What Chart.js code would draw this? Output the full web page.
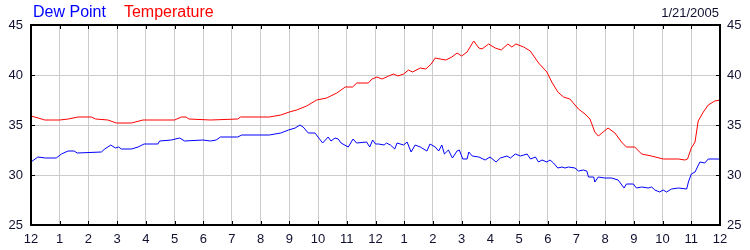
<!DOCTYPE html>
<html>
<head>
<meta charset="utf-8">
<script src="https://cdn.jsdelivr.net/npm/chart.js@4.4.1/dist/chart.umd.min.js"></script>
<style>
  body { margin: 0; background: #fff; }
  canvas { display: block; }
</style>
</head>
<body>
<canvas id="grafica" width="750" height="250"></canvas>
<script>
// Etiquetas del eje x (horas 0..24)
const hourLabels = ['12','1','2','3','4','5','6','7','8','9','10','11','12','1','2','3','4','5','6','7','8','9','10','11','12'];
const yTicks = [25, 30, 35, 40, 45];
const dateText = '1/21/2005';

// Temperatura
const tempHours = [0, 0.25, 0.48, 1.0, 1.3, 1.64, 2.1, 2.25, 2.68, 2.97, 3.5, 3.9, 5.0, 5.24, 5.4, 5.5, 6.25, 7.2, 7.3, 8.3, 8.7, 9.0, 9.25, 9.6, 9.95, 10.3, 10.65, 10.95, 11.2, 11.35, 11.75, 11.88, 12.05, 12.23, 12.46, 12.63, 12.78, 12.98, 13.15, 13.29, 13.56, 13.75, 13.94, 14.08, 14.25, 14.45, 14.66, 14.84, 15.0, 15.19, 15.42, 15.6, 15.71, 15.94, 16.17, 16.38, 16.61, 16.75, 16.89, 17.16, 17.39, 17.68, 17.97, 18.14, 18.35, 18.55, 18.77, 18.95, 19.07, 19.3, 19.47, 19.64, 19.76, 19.93, 20.1, 20.34, 20.57, 20.74, 21.03, 21.27, 21.61, 22.02, 22.55, 22.78, 22.87, 23.0, 23.13, 23.24, 23.42, 23.59, 23.82, 24.0];
const tempValues = [35.9, 35.7, 35.5, 35.5, 35.6, 35.8, 35.8, 35.6, 35.5, 35.2, 35.2, 35.5, 35.5, 35.8, 35.8, 35.6, 35.5, 35.6, 35.8, 35.8, 36.0, 36.3, 36.5, 36.9, 37.5, 37.7, 38.2, 38.8, 38.8, 39.2, 39.2, 39.6, 39.8, 39.6, 39.9, 40.1, 39.9, 40.1, 40.5, 40.3, 40.7, 40.6, 41.1, 41.7, 41.6, 41.5, 41.8, 42.2, 41.9, 42.3, 43.4, 42.7, 42.6, 43.1, 42.7, 42.5, 43.1, 42.8, 43.1, 42.8, 42.4, 41.2, 40.3, 39.3, 38.3, 37.8, 37.6, 37.0, 36.6, 36.1, 35.6, 34.3, 33.9, 34.3, 34.7, 34.2, 33.3, 32.8, 32.8, 32.1, 31.9, 31.6, 31.6, 31.5, 31.6, 32.7, 33.3, 35.4, 36.3, 37.0, 37.4, 37.5];

// Punto de rocio
const dewHours = [0, 0.24, 0.5, 0.88, 1.06, 1.29, 1.5, 1.61, 2.45, 2.57, 2.78, 2.94, 3.05, 3.15, 3.5, 3.73, 3.94, 4.42, 4.48, 4.89, 5.18, 5.35, 5.99, 6.25, 6.45, 6.6, 7.2, 7.34, 8.3, 8.7, 8.97, 9.2, 9.37, 9.48, 9.66, 9.89, 10.16, 10.35, 10.45, 10.59, 10.7, 10.8, 11.05, 11.22, 11.34, 11.69, 11.8, 11.9, 12.0, 12.11, 12.3, 12.38, 12.52, 12.67, 12.75, 12.98, 13.1, 13.24, 13.38, 13.56, 13.79, 13.9, 14.08, 14.2, 14.31, 14.4, 14.54, 14.68, 14.84, 14.92, 15.04, 15.19, 15.25, 15.37, 15.6, 15.82, 15.99, 16.2, 16.35, 16.58, 16.7, 16.87, 17.05, 17.28, 17.4, 17.57, 17.68, 17.8, 17.97, 18.08, 18.2, 18.35, 18.5, 18.6, 18.72, 18.95, 19.07, 19.24, 19.36, 19.42, 19.6, 19.64, 19.76, 19.99, 20.22, 20.45, 20.66, 20.74, 20.98, 21.09, 21.27, 21.5, 21.62, 21.73, 21.9, 22.02, 22.14, 22.31, 22.55, 22.84, 22.9, 23.0, 23.13, 23.3, 23.47, 23.59, 23.76, 24.0];
const dewValues = [31.3, 31.8, 31.7, 31.7, 32.1, 32.4, 32.4, 32.2, 32.3, 32.6, 33.0, 32.7, 32.8, 32.6, 32.6, 32.8, 33.1, 33.1, 33.4, 33.5, 33.7, 33.4, 33.5, 33.4, 33.5, 33.8, 33.8, 34.0, 34.0, 34.2, 34.5, 34.7, 35.0, 34.8, 34.2, 34.2, 33.2, 33.8, 33.4, 33.7, 33.6, 33.2, 32.8, 33.6, 33.2, 33.3, 32.8, 33.5, 33.1, 33.1, 33.0, 33.2, 33.0, 32.6, 33.2, 33.0, 33.3, 32.3, 33.0, 32.8, 32.4, 33.1, 32.8, 32.4, 33.0, 32.1, 32.5, 31.7, 32.4, 32.5, 31.6, 31.6, 32.3, 31.9, 31.8, 31.5, 31.8, 31.3, 31.7, 31.9, 31.7, 32.1, 31.9, 32.1, 31.6, 31.8, 31.3, 31.5, 31.3, 31.5, 31.2, 30.7, 30.8, 30.7, 30.8, 30.7, 30.4, 30.5, 30.4, 29.8, 29.8, 29.3, 29.8, 29.7, 29.7, 29.5, 28.7, 29.1, 29.1, 28.7, 28.8, 28.7, 28.8, 28.5, 28.3, 28.5, 28.3, 28.6, 28.7, 28.6, 29.3, 30.1, 30.3, 31.3, 31.2, 31.6, 31.6, 31.6];

const fuente = '"Liberation Sans", Arial, sans-serif';
const colorTexto = '#101030';

// Marco negro, marcas internas y titulos
const marcoPlugin = {
    id: 'marco',
    afterDraw(chart) {
        const ctx = chart.ctx;
        const a = chart.chartArea;
        const x = chart.scales.x;
        const y = chart.scales.y;
        ctx.save();
        ctx.strokeStyle = '#000';
        ctx.lineWidth = 1;
        ctx.beginPath();
        x.ticks.forEach(t => {
            const px = Math.round(x.getPixelForValue(t.value)) + 0.5;
            ctx.moveTo(px, a.bottom); ctx.lineTo(px, a.bottom - 4);
            ctx.moveTo(px, a.top); ctx.lineTo(px, a.top + 4);
        });
        y.ticks.forEach(t => {
            const py = Math.round(y.getPixelForValue(t.value)) + 0.5;
            ctx.moveTo(a.left, py); ctx.lineTo(a.left + 4, py);
            ctx.moveTo(a.right, py); ctx.lineTo(a.right - 4, py);
        });
        ctx.stroke();
        ctx.lineWidth = 2;
        ctx.strokeRect(a.left, a.top, a.right - a.left, a.bottom - a.top);

        ctx.font = '16px ' + fuente;
        ctx.textBaseline = 'alphabetic';
        ctx.textAlign = 'left';
        ctx.fillStyle = '#0000ff';
        ctx.fillText('Dew Point', a.left + 2, 17);
        const w = ctx.measureText('Dew Point').width;
        ctx.fillStyle = '#ff0000';
        ctx.fillText('Temperature', a.left + 2 + w + 18, 17);
        ctx.font = '13px ' + fuente;
        ctx.fillStyle = colorTexto;
        ctx.textAlign = 'right';
        ctx.fillText(dateText, a.right - 1, 17);
        ctx.restore();
    }
};

const datosTemp = {
    label: 'Temperature',
    data: tempHours.map((h, i) => ({ x: h, y: tempValues[i] })),
    borderColor: '#ff0000',
    borderWidth: 1,
    pointRadius: 0,
    tension: 0,
    yAxisID: 'y'
};

const datosDew = {
    label: 'Dew Point',
    data: dewHours.map((h, i) => ({ x: h, y: dewValues[i] })),
    borderColor: '#0000ff',
    borderWidth: 1,
    pointRadius: 0,
    tension: 0,
    yAxisID: 'y'
};

const grafica = document.getElementById('grafica').getContext('2d');
const chart = new Chart(grafica, {
    type: 'line',
    data: { datasets: [datosTemp, datosDew] },
    plugins: [marcoPlugin],
    options: {
        responsive: false,
        animation: false,
        events: [],
        layout: { padding: { top: 25, left: 0, right: 0, bottom: 0 } },
        plugins: { legend: { display: false }, tooltip: { enabled: false } },
        scales: {
            x: {
                type: 'linear',
                min: 0,
                max: 24,
                afterFit: s => { s.height = 25; },
                afterBuildTicks: s => { s.ticks = hourLabels.map((l, i) => ({ value: i })); },
                border: { display: false },
                grid: { color: '#cccccc', drawTicks: false, lineWidth: 1 },
                ticks: {
                    autoSkip: false,
                    maxRotation: 0,
                    padding: 7,
                    color: colorTexto,
                    font: { family: fuente, size: 13 },
                    callback: (v) => hourLabels[v]
                }
            },
            y: {
                position: 'left',
                min: 25,
                max: 45,
                afterFit: s => { s.width = 31; },
                afterBuildTicks: s => { s.ticks = yTicks.map(v => ({ value: v })); },
                border: { display: false },
                grid: { color: '#cccccc', drawTicks: false, lineWidth: 1 },
                ticks: { padding: 8, color: colorTexto, font: { family: fuente, size: 13 } }
            },
            y2: {
                position: 'right',
                min: 25,
                max: 45,
                afterFit: s => { s.width = 30; },
                afterBuildTicks: s => { s.ticks = yTicks.map(v => ({ value: v })); },
                border: { display: false },
                grid: { display: false, drawTicks: false },
                ticks: { padding: 7, color: colorTexto, font: { family: fuente, size: 13 } }
            }
        }
    }
});
</script>
</body>
</html>
